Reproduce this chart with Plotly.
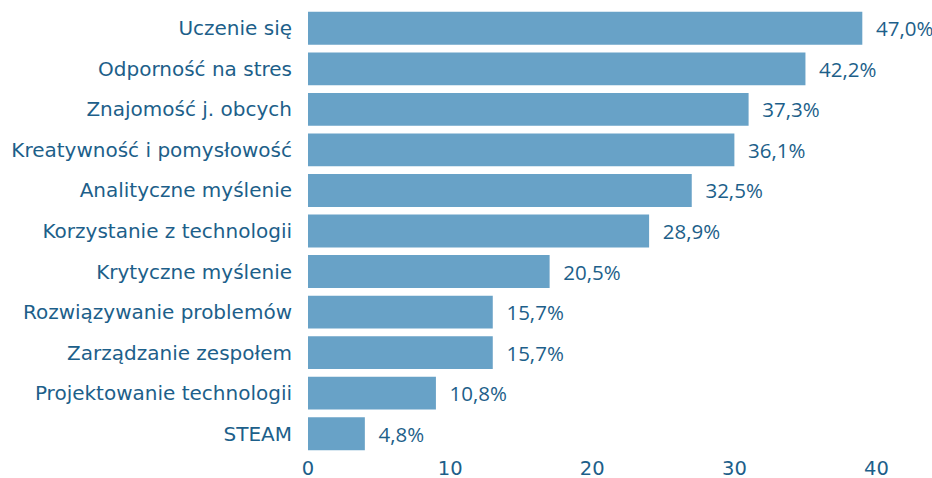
import plotly.graph_objects as go

# categories, top to bottom as in the source
categories = [
    "Uczenie się",
    "Odporność na stres",
    "Znajomość j. obcych",
    "Kreatywność i pomysłowość",
    "Analityczne myślenie",
    "Korzystanie z technologii",
    "Krytyczne myślenie",
    "Rozwiązywanie problemów",
    "Zarządzanie zespołem",
    "Projektowanie technologii",
    "STEAM",
]
# number of answers (bar length) and share shown as label
counts = [39, 35, 31, 30, 27, 24, 17, 13, 13, 9, 4]
shares = ["47,0%", "42,2%", "37,3%", "36,1%", "32,5%", "28,9%",
          "20,5%", "15,7%", "15,7%", "10,8%", "4,8%"]

bar_color = "#68a2c7"
text_color = "#1d5f8a"

fig = go.Figure(
    go.Bar(
        x=counts,
        y=categories,
        orientation="h",
        marker=dict(color=bar_color, line=dict(width=0)),
        width=0.81,
        text=["  " + s for s in shares],
        textposition="outside",
        constraintext="none",
        cliponaxis=False,
        textfont=dict(family="Open Sans", size=20.5, color=text_color),
    )
)

fig.update_layout(
    width=932,
    height=478,
    margin=dict(l=308, r=10, t=8, b=24),
    plot_bgcolor="white",
    paper_bgcolor="white",
    showlegend=False,
    font=dict(family="DejaVu Sans", size=20, color=text_color),
)

fig.update_xaxes(
    range=[0, 43.2],
    tickvals=[0, 10, 20, 30, 40],
    showgrid=False,
    zeroline=False,
    showline=False,
    automargin=False,
    tickfont=dict(size=19.5, color=text_color),
)
fig.update_yaxes(
    autorange="reversed",
    showgrid=False,
    automargin=False,
    ticklabelstandoff=15,
    tickfont=dict(size=20, color=text_color),
)

# the page body has a default 8px margin; drop it so the figure fills the window
fig.write_html(
    "out.html",
    config={"displayModeBar": False},
    post_script="document.body.style.margin='0';",
)
